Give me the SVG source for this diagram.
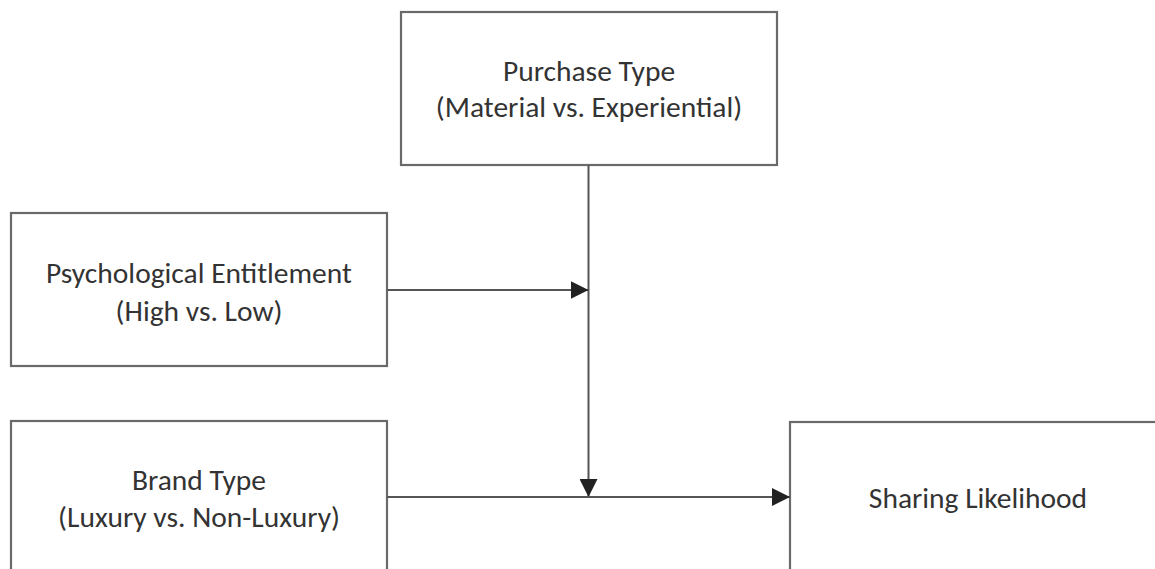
<svg xmlns="http://www.w3.org/2000/svg" width="1155" height="569" viewBox="0 0 1155 569">
<style>
.box{fill:#fff;stroke:#6a6a6a;stroke-width:2.2}
.t{font-family:Carlito,Lato,"Open Sans",sans-serif;font-size:29.5px;fill:#333;text-anchor:middle}
.ln{stroke:#555;stroke-width:2;fill:none}
</style>
<defs>
<marker id="ah" viewBox="0 0 18 18" refX="18" refY="9" markerWidth="18" markerHeight="18" markerUnits="userSpaceOnUse" orient="auto">
<path d="M0,0 L18,9 L0,18 Z" fill="#222"/>
</marker>
</defs>
<rect width="1155" height="569" fill="#fff"/>
<g id="purchase">
<rect class="box" x="401" y="12" width="376" height="153"/>
<text class="t" x="589" y="81">Purchase Type</text>
<text class="t" x="589" y="117">(Material vs. Experiential)</text>
</g>
<g id="entitlement">
<rect class="box" x="11" y="213" width="376" height="153"/>
<text class="t" x="199" y="283">Psychological Entitlement</text>
<text class="t" x="199" y="321">(High vs. Low)</text>
</g>
<g id="brand">
<rect class="box" x="11" y="421" width="376" height="160"/>
<text class="t" x="199" y="490">Brand Type</text>
<text class="t" x="199" y="527">(Luxury vs. Non-Luxury)</text>
</g>
<g id="sharing">
<rect class="box" x="790" y="422" width="380" height="160"/>
<text class="t" x="978" y="508">Sharing Likelihood</text>
</g>
<g id="connectors">
<path class="ln" d="M588.5,165 V497" marker-end="url(#ah)"/>
<path class="ln" d="M387,290 H588.5" marker-end="url(#ah)"/>
<path class="ln" d="M387,497 H790" marker-end="url(#ah)"/>
</g>
</svg>
